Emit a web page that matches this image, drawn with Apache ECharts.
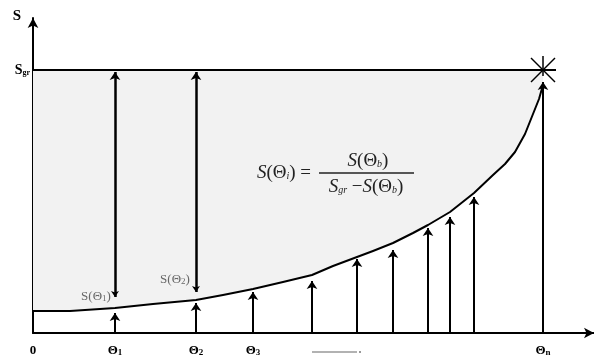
<!DOCTYPE html>
<html><head><meta charset="utf-8">
<script src="https://cdn.jsdelivr.net/npm/echarts@6/dist/echarts.min.js"></script>
<style>html,body{margin:0;padding:0;background:#fff}#c{width:594px;height:358px}</style>
</head><body><div id="c"></div>
<script>
// Curve S(Θ) (arbitrary units)
const curveX = [0, 3.7, 8.2, 12.0, 16.3, 19.0, 22.0, 25.0, 27.9, 30.0, 32.4, 34.0, 36.0, 38.0, 39.5, 41.7, 44.1, 46.0, 47.2, 48.2, 49.2, 50.0, 50.6, 51.0];
const curveY = [2.2, 2.2, 2.5, 2.9, 3.3, 3.8, 4.4, 5.1, 5.8, 6.7, 7.6, 8.2, 9.0, 10.0, 10.8, 12.1, 14.0, 15.8, 16.9, 18.1, 19.9, 21.9, 23.4, 24.8];
// Upward arrows from the axis to the curve
const arrowX = [8.2, 16.3, 22.0, 27.9, 32.4, 36.0, 39.5, 41.7, 44.1, 51.0];
const arrowTop = [2.0, 3.0, 4.1, 5.2, 7.4, 8.3, 10.5, 11.6, 13.6, 25.1];
// Double arrows between S(Θ) and Sgr
const gapX = [8.2, 16.3];
const gapLow = [3.6, 4.1];
const Sgr = 26.3;
const sgrLineEnd = 52.3;
// Tick labels
const tickValues = [0, 8.2, 16.3, 22.0, 51.0];
const tickMain = ['0', 'Θ', 'Θ', 'Θ', 'Θ'];
const tickSub = ['', '1', '2', '3', 'n'];
const pointLabels = [{x: 6.3, y: 3.6, main: 'S(Θ', sub: '1', end: ')'}, {x: 14.2, y: 5.3, main: 'S(Θ', sub: '2', end: ')'}];

const chart = echarts.init(document.getElementById('c'), null, {renderer: 'canvas'});
const serif = '"Liberation Serif", "DejaVu Serif", serif';

const curveData = curveX.map((x, i) => [x, curveY[i]]);
const arrowLines = arrowX.map((x, i) => ({coords: [[x, 0], [x, arrowTop[i]]]}));
const gapLines = gapX.map((x, i) => ({coords: [[x, gapLow[i]], [x, Sgr - 0.2]]}));

const fRich = {
  i: {fontFamily: serif, fontStyle: 'italic', fontSize: 19, fill: '#222'},
  n: {fontFamily: serif, fontSize: 19, fill: '#222'},
  s: {fontFamily: serif, fontStyle: 'italic', fontSize: 10, fill: '#222', padding: [7, 0, 0, 0]}
};

const option = {
  animation: false,
  backgroundColor: '#fff',
  grid: {left: 33, right: 0, top: 18, bottom: 25},
  xAxis: {
    type: 'value', min: 0, max: 56.1,
    splitLine: {show: false},
    axisTick: {show: false},
    axisLine: {lineStyle: {color: '#000', width: 2}, symbol: ['none', 'arrow'], symbolSize: [8, 10]},
    axisLabel: {
      customValues: tickValues, margin: 11,
      formatter: v => {
        const i = tickValues.findIndex(t => Math.abs(t - v) < 1e-6);
        if (i < 0) return '';
        return tickSub[i] ? '{m|' + tickMain[i] + '}{s|' + tickSub[i] + '}' : '{m|' + tickMain[i] + '}';
      },
      rich: {
        m: {fontFamily: serif, fontWeight: 'bold', fontSize: 13, color: '#000'},
        s: {fontFamily: serif, fontWeight: 'bold', fontSize: 9, color: '#000', padding: [4, 0, 0, 0]}
      }
    }
  },
  yAxis: {
    type: 'value', min: 0, max: 31.5,
    splitLine: {show: false},
    axisTick: {show: false},
    axisLine: {lineStyle: {color: '#000', width: 2}, symbol: ['none', 'arrow'], symbolSize: [8, 10]},
    name: 'S', nameLocation: 'end', nameGap: 2,
    nameTextStyle: {fontFamily: serif, fontWeight: 'bold', fontSize: 15, color: '#000', align: 'right', verticalAlign: 'middle', padding: [0, 12, 8, 0]},
    axisLabel: {
      customValues: [Sgr], margin: 3,
      formatter: () => '{m|S}{s|gr}',
      rich: {
        m: {fontFamily: serif, fontWeight: 'bold', fontSize: 14, color: '#000'},
        s: {fontFamily: serif, fontWeight: 'bold', fontSize: 8, color: '#000', padding: [5, 0, 0, 0]}
      }
    }
  },
  series: [
    {
      // shaded region between the curve and Sgr
      type: 'custom', z: 1, silent: true,
      data: [0],
      renderItem: (params, api) => {
        const pts = curveData.map(p => api.coord(p));
        pts.push(api.coord([curveX[curveX.length - 1], Sgr]));
        pts.push(api.coord([0, Sgr]));
        return {type: 'polygon', shape: {points: pts}, style: {fill: '#f2f2f2'}};
      }
    },
    {
      type: 'line', z: 3, data: curveData, smooth: false,
      showSymbol: false, lineStyle: {color: '#000', width: 2, join: 'round'}
    },
    {
      // Sgr horizontal line
      type: 'line', z: 3, data: [[0, Sgr], [sgrLineEnd, Sgr]],
      showSymbol: false, lineStyle: {color: '#000', width: 2}
    },
    {
      type: 'lines', coordinateSystem: 'cartesian2d', z: 4,
      data: arrowLines, symbol: ['none', 'arrow'], symbolSize: [6, 8],
      lineStyle: {color: '#000', width: 2, opacity: 1}
    },
    {
      type: 'lines', coordinateSystem: 'cartesian2d', z: 4,
      data: gapLines, symbol: ['arrow', 'arrow'], symbolSize: [6, 8],
      lineStyle: {color: '#000', width: 2.5, opacity: 1}
    },
    {
      // star mark at (Θn, Sgr)
      type: 'custom', z: 5, silent: true,
      data: [[arrowX[arrowX.length - 1], Sgr]],
      renderItem: (params, api) => {
        const c = api.coord([api.value(0), api.value(1)]);
        const d = 12;
        return {type: 'group', children: [
          {type: 'line', shape: {x1: c[0] - d, y1: c[1] - d, x2: c[0] + d, y2: c[1] + d}, style: {stroke: '#000', lineWidth: 1.5}},
          {type: 'line', shape: {x1: c[0] - d, y1: c[1] + d, x2: c[0] + d, y2: c[1] - d}, style: {stroke: '#000', lineWidth: 1.5}},
          {type: 'line', shape: {x1: c[0], y1: c[1] - d - 2, x2: c[0], y2: c[1] + 6}, style: {stroke: '#000', lineWidth: 1.5}}
        ]};
      }
    },
    {
      // S(Θ1), S(Θ2) labels
      type: 'scatter', z: 6, symbolSize: 0, silent: true,
      data: pointLabels.map(p => ({value: [p.x, p.y], label: {formatter: '{m|' + p.main + '}{s|' + p.sub + '}{m|' + p.end + '}'}})),
      label: {
        show: true, position: 'inside',
        rich: {
          m: {fontFamily: serif, fontSize: 13, color: '#444'},
          s: {fontFamily: serif, fontSize: 9, color: '#444', padding: [4, 0, 0, 0]}
        }
      }
    }
  ],
  graphic: {elements: [
    {type: 'text', z: 100, x: 284, y: 173, style: {text: '{i|S}{n|(Θ}{s|i}{n|) =}', rich: fRich, align: 'center', verticalAlign: 'middle'}},
    {type: 'text', z: 100, x: 368, y: 161, style: {text: '{i|S}{n|(Θ}{s|b}{n|)}', rich: fRich, align: 'center', verticalAlign: 'middle'}},
    {type: 'line', z: 100, shape: {x1: 319, y1: 173, x2: 414, y2: 173}, style: {stroke: '#222', lineWidth: 1.4}},
    {type: 'text', z: 100, x: 366, y: 187, style: {text: '{i|S}{s|gr}{n| −}{i|S}{n|(Θ}{s|b}{n|)}', rich: fRich, align: 'center', verticalAlign: 'middle'}},
    {type: 'line', z: 100, shape: {x1: 312, y1: 352, x2: 357, y2: 352}, style: {stroke: '#999', lineWidth: 1.5}},
    {type: 'rect', z: 100, shape: {x: 359, y: 351, width: 2, height: 2}, style: {fill: '#999'}}
  ]}
};
chart.setOption(option);
</script>
</body></html>
